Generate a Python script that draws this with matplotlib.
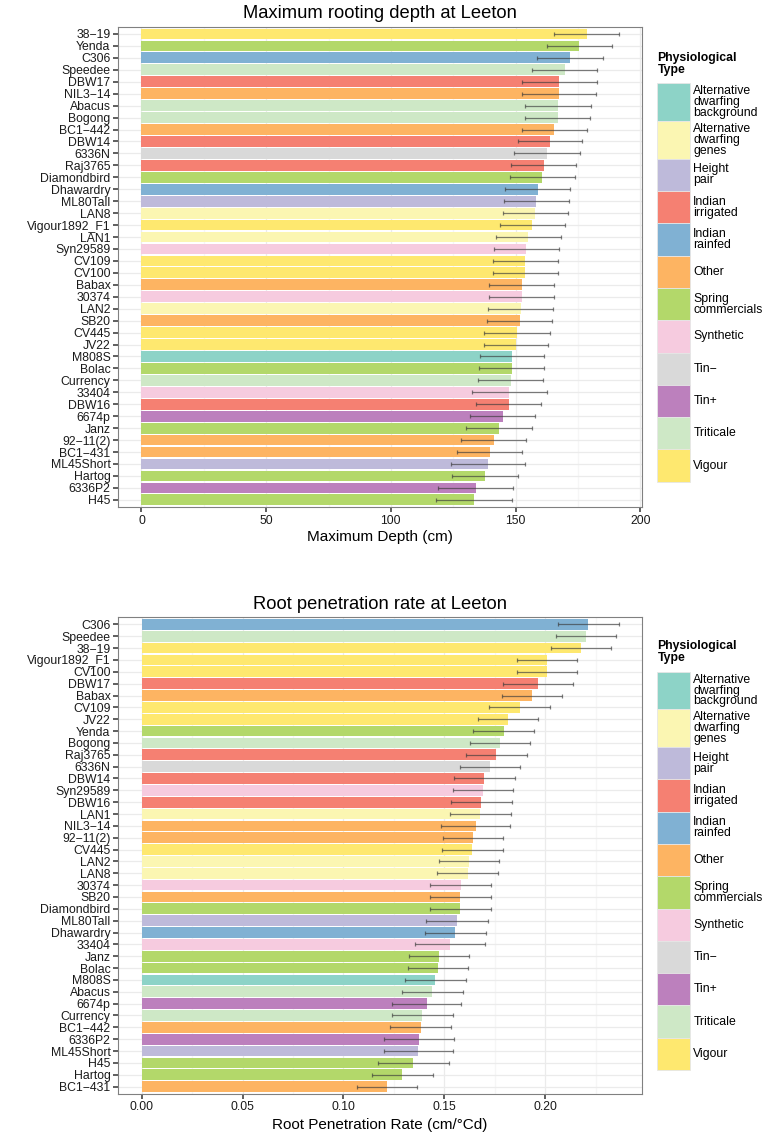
# -*- coding: utf-8 -*-

import numpy as np
import matplotlib.pyplot as plt
from matplotlib.patches import Rectangle
from matplotlib.ticker import MultipleLocator

plt.rcParams['font.family'] = ['Liberation Sans', 'DejaVu Sans']

#-------------------------------------------------------
# Physiological types (legend order) and Set3 colours
type_names = ['Alternative dwarfing background', 'Alternative dwarfing genes', 'Height pair',
              'Indian irrigated', 'Indian rainfed', 'Other', 'Spring commercials', 'Synthetic',
              'Tin\u2212', 'Tin+', 'Triticale', 'Vigour']
type_labels = ['Alternative\ndwarfing\nbackground', 'Alternative\ndwarfing\ngenes', 'Height\npair',
               'Indian\nirrigated', 'Indian\nrainfed', 'Other', 'Spring\ncommercials', 'Synthetic',
               'Tin\u2212', 'Tin+', 'Triticale', 'Vigour']
type_colors = ['#8DD3C7', '#FBF6B2', '#BEBADA', '#F58072', '#80B1D3', '#FDB462',
               '#B3D86A', '#F6CBDF', '#D9D9D9', '#BC80BD', '#CEE8C6', '#FEE86F']

# Genotype -> physiological type
genotypes = ['38\u221219', 'Yenda', 'C306', 'Speedee', 'DBW17', 'NIL3\u221214', 'Abacus', 'Bogong',
             'BC1\u2212442', 'DBW14', '6336N', 'Raj3765', 'Diamondbird', 'Dhawardry', 'ML80Tall',
             'LAN8', 'Vigour1892_F1', 'LAN1', 'Syn29589', 'CV109', 'CV100', 'Babax', '30374',
             'LAN2', 'SB20', 'CV445', 'JV22', 'M808S', 'Bolac', 'Currency', '33404', 'DBW16',
             '6674p', 'Janz', '92\u221211(2)', 'BC1\u2212431', 'ML45Short', 'Hartog', '6336P2', 'H45']
genotype_type = ['Vigour', 'Spring commercials', 'Indian rainfed', 'Triticale', 'Indian irrigated',
                 'Other', 'Triticale', 'Triticale', 'Other', 'Indian irrigated', 'Tin\u2212',
                 'Indian irrigated', 'Spring commercials', 'Indian rainfed', 'Height pair',
                 'Alternative dwarfing genes', 'Vigour', 'Alternative dwarfing genes', 'Synthetic',
                 'Vigour', 'Vigour', 'Other', 'Synthetic', 'Alternative dwarfing genes', 'Other',
                 'Vigour', 'Vigour', 'Alternative dwarfing background', 'Spring commercials',
                 'Triticale', 'Synthetic', 'Indian irrigated', 'Tin+', 'Spring commercials', 'Other',
                 'Other', 'Height pair', 'Spring commercials', 'Tin+', 'Spring commercials']

# Maximum rooting depth (cm), top to bottom
depth_names = list(genotypes)
depth_mean = [178.5, 175.6, 171.8, 169.8, 167.5, 167.3, 167.0, 166.9, 165.6, 163.8,
              162.6, 161.3, 160.7, 158.9, 158.3, 158.0, 156.7, 155.2, 154.4, 154.0,
              154.0, 152.5, 152.5, 152.0, 151.7, 150.6, 150.2, 148.6, 148.5, 148.0,
              147.5, 147.2, 144.8, 143.3, 141.3, 139.7, 139.0, 137.7, 134.0, 133.3]
depth_se = [13.0, 13.0, 13.1, 13.0, 15.0, 14.8, 13.1, 13.1, 13.1, 13.0,
            13.1, 13.0, 13.1, 13.0, 13.1, 13.1, 13.1, 13.1, 13.1, 13.2,
            13.2, 13.0, 13.0, 13.1, 13.0, 13.1, 13.0, 13.0, 13.0, 13.0,
            15.0, 13.1, 13.1, 13.2, 13.0, 13.0, 15.0, 13.1, 15.1, 15.1]

# Root penetration rate (cm/degree C day), top to bottom
rate_names = ['C306', 'Speedee', '38\u221219', 'Vigour1892_F1', 'CV100', 'DBW17', 'Babax', 'CV109',
              'JV22', 'Yenda', 'Bogong', 'Raj3765', '6336N', 'DBW14', 'Syn29589', 'DBW16', 'LAN1',
              'NIL3\u221214', '92\u221211(2)', 'CV445', 'LAN2', 'LAN8', '30374', 'SB20', 'Diamondbird',
              'ML80Tall', 'Dhawardry', '33404', 'Janz', 'Bolac', 'M808S', 'Abacus', '6674p',
              'Currency', 'BC1\u2212442', '6336P2', 'ML45Short', 'H45', 'Hartog', 'BC1\u2212431']
rate_mean = [0.2214, 0.2203, 0.2176, 0.2009, 0.2009, 0.1964, 0.1936, 0.1875, 0.1814, 0.1794,
             0.1777, 0.1758, 0.1727, 0.1699, 0.1693, 0.1684, 0.1678, 0.1655, 0.1642, 0.1640,
             0.1623, 0.1617, 0.1581, 0.1580, 0.1580, 0.1563, 0.1555, 0.1528, 0.1475, 0.1470,
             0.1456, 0.1441, 0.1413, 0.1392, 0.1383, 0.1373, 0.1371, 0.1347, 0.1292, 0.1216]
rate_se = [0.0152, 0.0150, 0.0149, 0.0150, 0.0150, 0.0173, 0.0150, 0.0151, 0.0149, 0.0150,
           0.0150, 0.0150, 0.0151, 0.0150, 0.0150, 0.0150, 0.0151, 0.0173, 0.0150, 0.0149,
           0.0150, 0.0151, 0.0150, 0.0150, 0.0150, 0.0152, 0.0150, 0.0172, 0.0150, 0.0149,
           0.0150, 0.0150, 0.0171, 0.0150, 0.0150, 0.0173, 0.0172, 0.0175, 0.0150, 0.0149]

#-------------------------------------------------------
W, H = 771.0, 1139.0
fig = plt.figure(figsize=(W/100, H/100), dpi=100)

def box(l, t, r, b):
    return [l/W, 1 - b/H, (r - l)/W, (b - t)/H]

def ptxt(x, y, s, **kw):
    fig.text(x/W, 1 - y/H, s, **kw)

def panel(rect, names, mean, se, xlim, major, minor, fmt):
    ax = fig.add_axes(rect)
    n = len(names)
    y = np.arange(n)
    cols = [type_colors[type_names.index(genotype_type[genotypes.index(g)])] for g in names]
    ax.barh(y, mean, height=0.9, color=cols, zorder=2)
    ax.errorbar(mean, y, xerr=se, fmt='none', ecolor='#3a3a3a', alpha=0.65,
                elinewidth=0.9, capsize=1.6, capthick=0.9, zorder=3)
    ax.set_ylim(n - 0.4, -0.6)
    ax.set_xlim(xlim)
    ax.set_yticks(y)
    ax.set_yticklabels(names)
    ax.xaxis.set_major_locator(MultipleLocator(major))
    ax.xaxis.set_minor_locator(MultipleLocator(minor))
    ax.xaxis.set_major_formatter(plt.FormatStrFormatter(fmt))
    ax.set_axisbelow(True)
    ax.grid(True, which='major', color='#EBEBEB', lw=0.9, zorder=0)
    ax.xaxis.grid(True, which='minor', color='#F6F6F6', lw=0.9, zorder=0)
    ax.tick_params(which='major', length=3.6, width=1.1, color='#333333',
                   labelsize=8.8, labelcolor='#1a1a1a', pad=2)
    ax.tick_params(which='minor', length=0)
    for s in ax.spines.values():
        s.set_color('#808080')
        s.set_linewidth(0.8)
    return ax

def legend(y0, ytitle):
    ptxt(657.5, ytitle, 'Physiological\nType', fontsize=8.8, fontweight='bold',
         va='center', ha='left', linespacing=1.0)
    y = y0
    for lab, c in zip(type_labels, type_colors):
        h = 37.7 if lab.count('\n') == 2 else 32.3
        fig.add_artist(Rectangle((656.7/W, 1 - (y + h)/H), 33.3/W, h/H, facecolor=c,
                                 edgecolor='#E6E6E6', lw=0.6, transform=fig.transFigure))
        ptxt(693.3, y + h/2, lab, fontsize=8.8, va='center', ha='left', linespacing=0.88)
        y += h

#-------------------------------------------------------
ax1 = panel(box(118.3, 26.8, 641.7, 507.0), depth_names, depth_mean, depth_se,
            (-9.3, 200.6), 50, 25, '%d')
ptxt(380, 14, 'Maximum rooting depth at Leeton', fontsize=13.2, ha='center', va='center')
ptxt(380, 537, 'Maximum Depth (cm)', fontsize=11, ha='center', va='center')
legend(83.3, 63.8)

ax2 = panel(box(118.3, 617.3, 641.7, 1093.7), rate_names, rate_mean, rate_se,
            (-0.0116, 0.2479), 0.05, 0.025, '%.2f')
ptxt(380, 604, 'Root penetration rate at Leeton', fontsize=13.2, ha='center', va='center')
ptxt(380, 1125, 'Root Penetration Rate (cm/\u00b0Cd)', fontsize=11, ha='center', va='center')
legend(671.7, 651.7)

fig.savefig('out.png', dpi=100)
